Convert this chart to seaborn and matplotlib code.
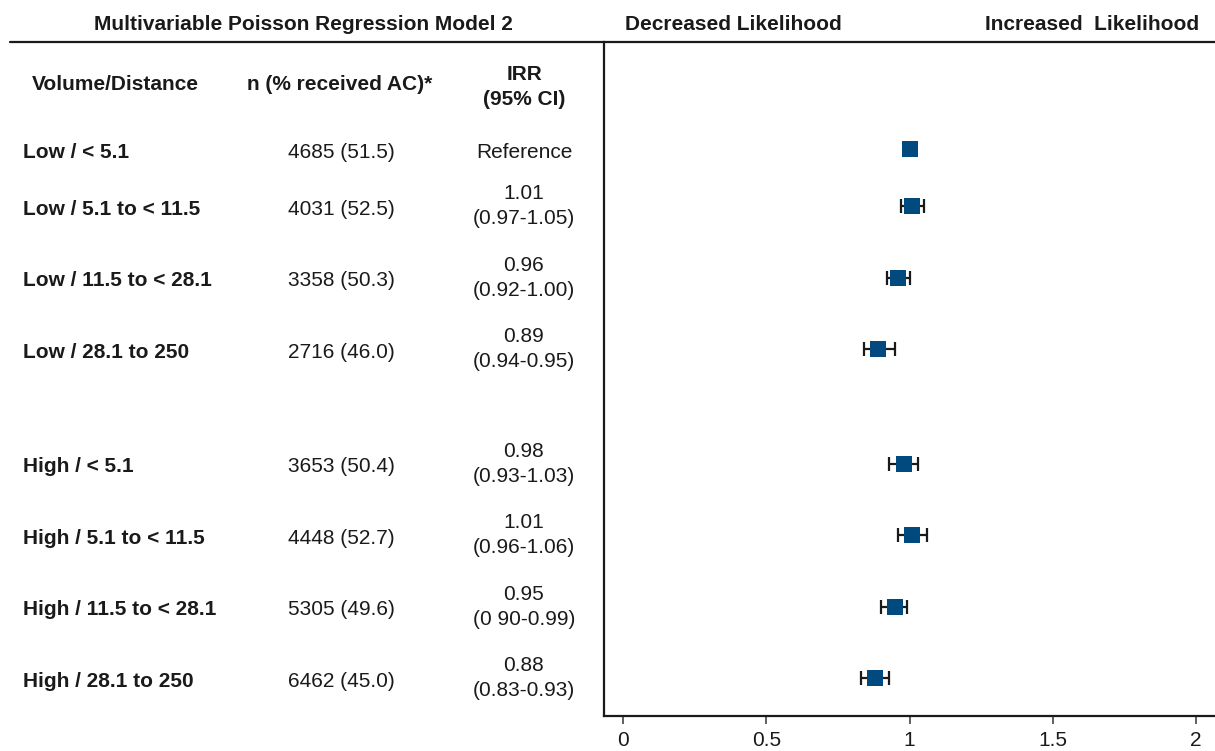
import matplotlib
matplotlib.use("Agg")
import matplotlib.pyplot as plt
import matplotlib.transforms as mtransforms
from matplotlib.lines import Line2D
import seaborn as sns
import pandas as pd

# ---------------- data ----------------
groups = ["Low / < 5.1", "Low / 5.1 to < 11.5", "Low / 11.5 to < 28.1", "Low / 28.1 to 250",
          "High / < 5.1", "High / 5.1 to < 11.5", "High / 11.5 to < 28.1", "High / 28.1 to 250"]
n_labels = ["4685 (51.5)", "4031 (52.5)", "3358 (50.3)", "2716 (46.0)",
            "3653 (50.4)", "4448 (52.7)", "5305 (49.6)", "6462 (45.0)"]
irr_labels = ["Reference", "1.01\n(0.97-1.05)", "0.96\n(0.92-1.00)", "0.89\n(0.94-0.95)",
              "0.98\n(0.93-1.03)", "1.01\n(0.96-1.06)", "0.95\n(0 90-0.99)", "0.88\n(0.83-0.93)"]
irr = [1.00, 1.01, 0.96, 0.89, 0.98, 1.01, 0.95, 0.88]
ci_lo = [None, 0.97, 0.92, 0.84, 0.93, 0.96, 0.90, 0.83]
ci_hi = [None, 1.05, 1.00, 0.95, 1.03, 1.06, 0.99, 0.93]
xticks = [0, 0.5, 1, 1.5, 2]
xtick_labels = ["0", "0.5", "1", "1.5", "2"]

# ---------------- layout ----------------
W, H = 1215, 751
row_pos = [0, 0.8, 1.8, 2.8, 4.4, 5.4, 6.4, 7.4]
ROW_PX = 71.5

sns.set_theme(style="white")
plt.rcParams["font.family"] = ["Liberation Sans", "DejaVu Sans"]
FS = 15
DARK = "#1a1a1a"
BLUE = "#004a80"

fig = plt.figure(figsize=(W / 100, H / 100), dpi=100)
ax_left, ax_right = 604 / W, 1.0
ax_top, ax_bot = 1 - 42 / H, 1 - 716 / H
ax = fig.add_axes([ax_left, ax_bot, ax_right - ax_left, ax_top - ax_bot])

df = pd.DataFrame({"irr": irr, "pos": row_pos, "group": groups})

# confidence intervals
for x, y, lo, hi in zip(irr, row_pos, ci_lo, ci_hi):
    if lo is None:
        continue
    ax.errorbar(x, y, xerr=[[x - lo], [hi - x]], fmt="none", ecolor=DARK,
                elinewidth=1.6, capsize=5, capthick=1.6, zorder=2)

sns.scatterplot(data=df, x="irr", y="pos", marker="s", s=135, color=BLUE,
                edgecolor=BLUE, linewidth=0, ax=ax, zorder=3, legend=False)

ax.set_xlim(-19 / 286.5, (1215 - 623) / 286.5)
ax.set_ylim((716 - 149) / ROW_PX, (42 - 149) / ROW_PX)
ax.set_xticks(xticks)
ax.set_xticklabels(xtick_labels, fontsize=FS, color=DARK)
ax.set_yticks([])
ax.set_xlabel("")
ax.set_ylabel("")
for side in ["top", "right"]:
    ax.spines[side].set_visible(False)
for side in ["left", "bottom"]:
    ax.spines[side].set_color(DARK)
    ax.spines[side].set_linewidth(1.6)
ax.tick_params(axis="x", bottom=True, direction="out", length=6, width=1.2,
               color="#444444", pad=5)

# top rule across the figure
fig.add_artist(Line2D([10 / W, 1.0], [1 - 42 / H, 1 - 42 / H], transform=fig.transFigure,
                      color=DARK, linewidth=1.6))

# headers
fig.text(303 / W, 1 - 25 / H, "Multivariable Poisson Regression Model 2", ha="center", va="center",
         fontsize=FS, fontweight="bold", color=DARK)
fig.text(733 / W, 1 - 25 / H, "Decreased Likelihood", ha="center", va="center",
         fontsize=FS, fontweight="bold", color=DARK)
fig.text(1092 / W, 1 - 25 / H, "Increased  Likelihood", ha="center", va="center",
         fontsize=FS, fontweight="bold", color=DARK)
fig.text(115 / W, 1 - 84 / H, "Volume/Distance", ha="center", va="center",
         fontsize=FS, fontweight="bold", color=DARK)
fig.text(340 / W, 1 - 84 / H, "n (% received AC)*", ha="center", va="center",
         fontsize=FS, fontweight="bold", color=DARK)
fig.text(524 / W, 1 - 87 / H, "IRR\n(95% CI)", ha="center", va="center",
         fontsize=FS, fontweight="bold", color=DARK, linespacing=1.4)

# table rows
tr = mtransforms.blended_transform_factory(fig.transFigure, ax.transData)
dy = 3 / ROW_PX
for g, nl, il, y in zip(groups, n_labels, irr_labels, row_pos):
    fig.text(23 / W, y + dy, g, transform=tr, ha="left", va="center", fontsize=FS,
             fontweight="bold", color=DARK)
    fig.text(341 / W, y + dy, nl, transform=tr, ha="center", va="center", fontsize=FS, color=DARK)
    off = dy if "\n" not in il else 0.0
    fig.text(524 / W, y + off, il, transform=tr, ha="center", va="center", fontsize=FS,
             color=DARK, linespacing=1.4)

fig.savefig("out.png", dpi=100)
